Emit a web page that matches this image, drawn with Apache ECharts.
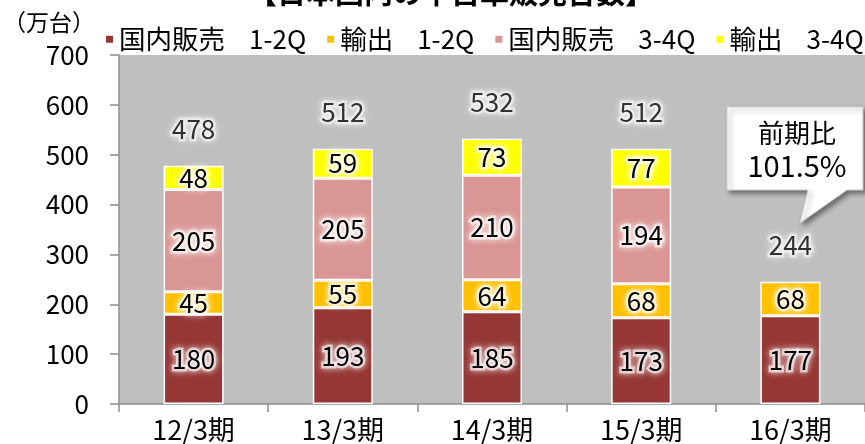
<!DOCTYPE html>
<html>
<head>
<meta charset="UTF-8">
<title>日本国内の中古車販売台数</title>
<script src="https://cdn.jsdelivr.net/npm/echarts@6/dist/echarts.min.js"></script>
<style>
  html, body { margin: 0; padding: 0; background: #fff; }
  #main { width: 865px; height: 444px; }
</style>
</head>
<body>
<div id="main"></div>
<script type="text/javascript">
// 期ごとの販売台数（万台）
var categories = ['12/3期', '13/3期', '14/3期', '15/3期', '16/3期'];
var domestic12 = [180, 193, 185, 173, 177];
var export12 = [45, 55, 64, 68, 68];
var domestic34 = [205, 205, 210, 194, '-'];
var export34 = [48, 59, 73, 77, '-'];
var totals = [478, 512, 532, 512, 244];
var seriesNames = ['国内販売  1-2Q', '輸出  1-2Q', '国内販売  3-4Q', '輸出  3-4Q'];
var seriesColors = ['#953735', '#FFC000', '#D99694', '#FFFF00'];

var FONT = '"Noto Sans CJK JP", "Noto Sans", sans-serif';

var barLabel = {
  show: true,
  position: 'inside',
  fontFamily: FONT,
  fontSize: 26,
  color: '#000',
  textBorderColor: 'rgba(255,255,255,0.6)',
  textBorderWidth: 5,
  textShadowColor: '#fff',
  textShadowBlur: 7
};

function barSeries(name, data, color) {
  return {
    name: name,
    type: 'bar',
    stack: 'total',
    barWidth: 60,
    data: data,
    itemStyle: { color: color, borderColor: '#fff', borderWidth: 1.5 },
    label: barLabel
  };
}

var myChart = echarts.init(document.getElementById('main'));

var option = {
  animation: false,
  textStyle: { fontFamily: FONT },
  legend: {
    data: seriesNames,
    left: 99,
    top: 21,
    width: 800,
    icon: 'rect',
    itemWidth: 9,
    itemHeight: 9,
    itemGap: 19,
    formatter: function (name) {
      var p = name.split('  ');
      return '{a|' + p[0] + '}{b|' + p[1] + '}';
    },
    textStyle: {
      fontFamily: FONT,
      color: '#000',
      rich: {
        a: { fontFamily: FONT, fontSize: 26.5, color: '#000' },
        b: { fontFamily: FONT, fontSize: 26, color: '#000', padding: [0, 0, 0, 24] }
      }
    }
  },
  grid: {
    left: 119,
    right: -7,
    top: 55,
    bottom: 40,
    show: true,
    backgroundColor: '#BFBFBF',
    borderWidth: 0
  },
  xAxis: {
    type: 'category',
    data: categories,
    axisLine: { lineStyle: { color: '#8f8f8f', width: 1.5 } },
    axisTick: { show: true, length: 8, lineStyle: { color: '#8f8f8f', width: 1.5 } },
    axisLabel: { fontFamily: FONT, fontSize: 27, color: '#000', margin: 12 }
  },
  yAxis: {
    type: 'value',
    min: 0,
    max: 700,
    interval: 100,
    splitLine: { show: false },
    axisLine: { show: true, lineStyle: { color: '#8f8f8f', width: 1.5 } },
    axisTick: { show: true, length: 9, lineStyle: { color: '#8f8f8f', width: 1.5 } },
    axisLabel: { fontFamily: FONT, fontSize: 26, color: '#000', margin: 30 }
  },
  series: [
    barSeries(seriesNames[0], domestic12, seriesColors[0]),
    barSeries(seriesNames[1], export12, seriesColors[1]),
    barSeries(seriesNames[2], domestic34, seriesColors[2]),
    barSeries(seriesNames[3], export34, seriesColors[3]),
    {
      name: '合計',
      type: 'scatter',
      data: totals,
      symbolSize: 0,
      silent: true,
      label: {
        show: true,
        position: 'inside',
        offset: [0, -37],
        fontFamily: FONT,
        fontSize: 26,
        color: '#000',
        textBorderColor: 'rgba(255,255,255,0.6)',
        textBorderWidth: 5,
        textShadowColor: '#fff',
        textShadowBlur: 7,
        formatter: '{c}'
      }
    }
  ],
  graphic: [
    {
      type: 'text',
      x: 451, y: -7,
      style: {
        text: '【日本国内の中古車販売台数】',
        fontFamily: FONT,
        fontSize: 29,
        fontWeight: 'bold',
        fill: '#000',
        align: 'center',
        verticalAlign: 'middle'
      }
    },
    {
      type: 'text',
      x: 49, y: 22,
      style: {
        text: '（万台）',
        fontFamily: FONT,
        fontSize: 23,
        fill: '#000',
        align: 'center',
        verticalAlign: 'middle'
      }
    },
    {
      type: 'polygon',
      shape: {
        points: [[727, 107], [863, 107], [863, 190], [847, 190], [800, 223], [808, 190], [727, 190]]
      },
      style: {
        fill: '#fff',
        stroke: '#d0d0d0',
        lineWidth: 1,
        shadowBlur: 5,
        shadowOffsetX: 3,
        shadowOffsetY: 3,
        shadowColor: 'rgba(0,0,0,0.45)'
      }
    },
    {
      type: 'text',
      x: 797, y: 133,
      style: {
        text: '前期比',
        fontFamily: FONT,
        fontSize: 26,
        fill: '#000',
        align: 'center',
        verticalAlign: 'middle'
      }
    },
    {
      type: 'text',
      x: 797, y: 166,
      style: {
        text: '101.5%',
        fontFamily: FONT,
        fontSize: 29,
        fill: '#000',
        align: 'center',
        verticalAlign: 'middle'
      }
    }
  ]
};

myChart.setOption(option);
</script>
</body>
</html>
